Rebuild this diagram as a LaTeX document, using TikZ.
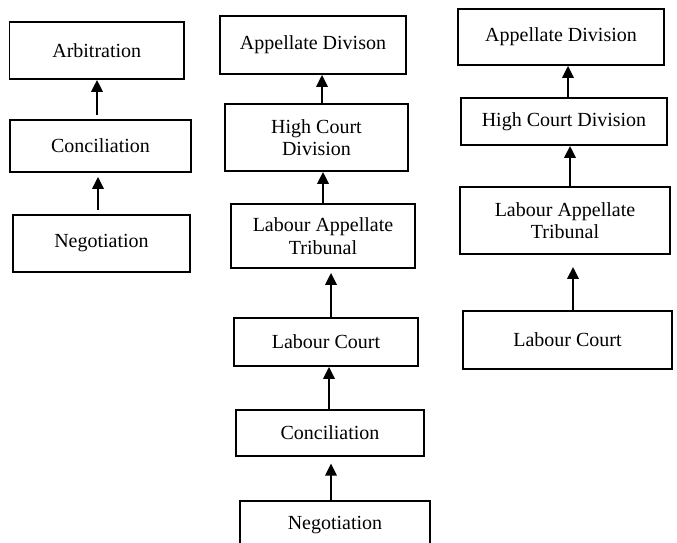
\documentclass[tikz,border=0pt]{standalone}
\usepackage{fontspec}
\setmainfont{Liberation Serif}
\usetikzlibrary{arrows.meta}
\tikzset{
  box/.style={draw, line width=1.3pt, rectangle, inner sep=0pt, align=center,
    font=\fontsize{15}{17}\selectfont},
  arr/.style={line width=1.7pt, -{Triangle[length=9pt,width=8.5pt]}}
}
\begin{document}
\begin{tikzpicture}[x=0.75pt,y=-0.75pt]
\useasboundingbox (0,0) rectangle (677,542);
\clip (0,0) rectangle (677,542);
% column 1
\node[box, minimum width=130.9pt, minimum height=42.8pt] (arb) at (96.75,50.5) {Arbitration};
\node[box, minimum width=135.8pt, minimum height=39pt] (con1) at (100.5,146) {Conciliation};
\node[box, minimum width=132.8pt, minimum height=42.8pt] (neg1) at (101.5,243.5) {Negotiation};
% column 2
\node[box, minimum width=139.5pt, minimum height=43.5pt] (ad2) at (313,45) {Appellate Divison};
\node[box, minimum width=137.3pt, minimum height=50.3pt] (hcd2) at (316.5,137.5) {High Court\\Division};
\node[box, minimum width=138pt, minimum height=48pt] (lat2) at (323,236) {Labour Appellate\\Tribunal};
\node[box, minimum width=138pt, minimum height=36pt] (lc2) at (326,342) {Labour Court};
\node[box, minimum width=141pt, minimum height=34.5pt] (con2) at (330,433) {Conciliation};
\node[box, minimum width=142.5pt, minimum height=36.8pt] (neg2) at (335,525.5) {Negotiation};
% column 3
\node[box, minimum width=154.5pt, minimum height=42pt] (ad3) at (561,37) {Appellate Division};
\node[box, minimum width=154.5pt, minimum height=35.3pt] (hcd3) at (564,121.5) {High Court Division};
\node[box, minimum width=157.5pt, minimum height=50.3pt] (lat3) at (565,220.5) {Labour Appellate\\Tribunal};
\node[box, minimum width=156.8pt, minimum height=43.5pt] (lc3) at (567.5,340) {Labour Court};
% arrow lines
\coordinate (xa1) at (97,0);
\coordinate (xa2) at (98,0);
\coordinate (xb1) at (322,0);
\coordinate (xb2) at (323,0);
\coordinate (xb3) at (331,0);
\coordinate (xb4) at (329,0);
\coordinate (xb5) at (331,0);
\coordinate (xc1) at (568,0);
\coordinate (xc2) at (570,0);
\coordinate (xc3) at (573,0);
\draw[arr, shorten <=3pt] (con1.north -| xa1) -- (arb.south -| xa1);
\draw[arr, shorten <=3pt, shorten >=3pt] (neg1.north -| xa2) -- (con1.south -| xa2);
\draw[arr] (hcd2.north -| xb1) -- (ad2.south -| xb1);
\draw[arr] (lat2.north -| xb2) -- (hcd2.south -| xb2);
\draw[arr, shorten >=3pt] (lc2.north -| xb3) -- (lat2.south -| xb3);
\draw[arr] (con2.north -| xb4) -- (lc2.south -| xb4);
\draw[arr, shorten >=5pt] (neg2.north -| xb5) -- (con2.south -| xb5);
\draw[arr] (hcd3.north -| xc1) -- (ad3.south -| xc1);
\draw[arr] (lat3.north -| xc2) -- (hcd3.south -| xc2);
\draw[arr, shorten >=9pt] (lc3.north -| xc3) -- (lat3.south -| xc3);
\end{tikzpicture}
\end{document}
